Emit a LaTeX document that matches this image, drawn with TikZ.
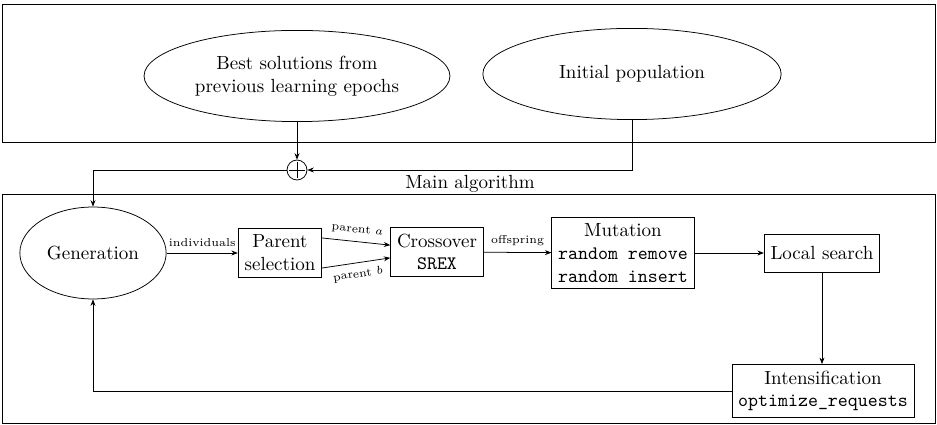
\documentclass[tikz,border=0pt]{standalone}
\usepackage{amsmath,amssymb}
\usepackage{xcolor}
\usetikzlibrary{arrows.meta,positioning,shapes.geometric}

\begin{document}
\begin{tikzpicture}[
      x=0.5263pt, y=-0.5263pt,
      blob/.style={ellipse, draw, align=center, inner sep=1pt},
      stage/.style={rectangle, draw, align=center},
      lbl/.style={font=\fontsize{6}{7}\selectfont},
      >={Stealth[length=3.4pt,width=2.6pt]}]
    \useasboundingbox (0,0) rectangle (937,425);
    % frames
    \draw (2,4) rectangle (935,142);
    \draw (2,194) rectangle (935,423);
    \node (mainlbl) at (470,184) {Main algorithm};
    % sources
    \node[blob, minimum width=161pt, minimum height=48pt] (best) at (297,76)
      {Best solutions from\\previous learning epochs};
    \node[blob, minimum width=157pt, minimum height=48pt] (init) at (632,74)
      {Initial population};
    \node[circle, draw, minimum size=10.5pt, inner sep=0pt] (plus) at (297,170) {};
    \draw ([yshift=-1pt]plus.north) -- ([yshift=1pt]plus.south);
    \draw ([xshift=1pt]plus.west) -- ([xshift=-1pt]plus.east);
    % main loop
    \node[blob, minimum width=77pt, minimum height=48.4pt] (gen) at (93,253) {Generation};
    \node[stage] (sel) at (280,253) {Parent\\selection};
    \node[stage] (cross) at (437,252) {Crossover\\\texttt{SREX}};
    \node[stage] (mut) at (623,253) {Mutation\\\texttt{random remove}\\\texttt{random insert}};
    \node[stage, minimum height=20pt] (ls) at (822,253) {Local search};
    \node[stage] (intens) at (823,391) {Intensification\\\texttt{optimize\_requests}};
    % connectors
    \draw[->] (best) -- (plus);
    \draw[->] (init.south) |- (plus.east);
    \draw[->] (plus.west) -| (gen.north);
    \draw[->] (gen) -- node[lbl, above] {individuals} (sel);
    \draw[->] ([yshift=7.9pt]sel.east) -- node[lbl, sloped, above] {parent $a$} ([yshift=3.6pt]cross.west);
    \draw[->] ([yshift=-7.9pt]sel.east) -- node[lbl, sloped, below] {parent $b$} ([yshift=-3.1pt]cross.west);
    \draw[->] (cross) -- node[lbl, above] {offspring} (mut);
    \draw[->] (mut) -- (ls);
    \draw[->] (ls) -- (ls |- intens.north);
    \draw[->] (intens.west) -| (gen.south);
  \end{tikzpicture}
\end{document}
